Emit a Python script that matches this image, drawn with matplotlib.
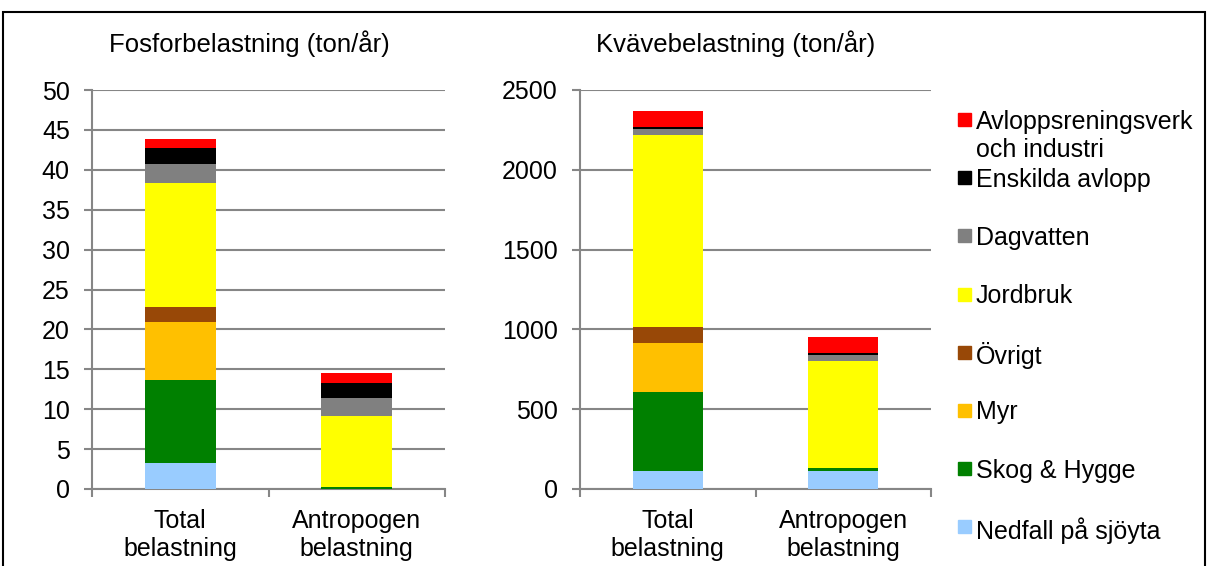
import matplotlib
matplotlib.use("Agg")
import matplotlib.pyplot as plt
from matplotlib.patches import Rectangle
import numpy as np

plt.rcParams["font.family"] = ["Liberation Sans", "DejaVu Sans"]
plt.rcParams["font.size"] = 18

# Data (ton/år), stacking order bottom -> top
sources = ["Nedfall på sjöyta", "Skog & Hygge", "Myr", "Övrigt", "Jordbruk",
           "Dagvatten", "Enskilda avlopp", "Avloppsreningsverk\noch industri"]
colors = ["#99CCFF", "#008000", "#FFC000", "#984807", "#FFFF00",
          "#808080", "#000000", "#FF0000"]
categories = ["Total\nbelastning", "Antropogen\nbelastning"]

fosfor_total = [3.2, 10.5, 7.2, 1.9, 15.6, 2.3, 2.0, 1.1]
fosfor_antro = [0.0, 0.3, 0.0, 0.0, 8.8, 2.3, 1.9, 1.2]
kvave_total = [113, 497, 307, 100, 1201, 36, 14, 102]
kvave_antro = [113, 21, 0, 0, 670, 36, 12, 102]

W, H = 1210, 566
fig = plt.figure(figsize=(W / 100, H / 100), dpi=100)

grid_col = "#868686"


def stacked(ax, total, antro, ymax, step):
    x = np.arange(len(categories))
    bottom = np.zeros(len(categories))
    for i, src in enumerate(sources):
        vals = np.array([total[i], antro[i]], dtype=float)
        ax.bar(x, vals, width=0.4, bottom=bottom, color=colors[i], zorder=3)
        bottom += vals
    ax.set_xlim(-0.5, 1.5)
    ax.set_ylim(0, ymax)
    ax.set_yticks(np.arange(0, ymax + step, step))
    ax.yaxis.grid(True, color=grid_col, linewidth=1.5, zorder=0)
    ax.set_xticks(x)
    ax.set_xticklabels(categories, linespacing=1.2)
    ax.set_xticks([-0.5, 0.5, 1.5], minor=True)
    ax.tick_params(axis="x", which="major", length=0, pad=14.5)
    ax.tick_params(axis="x", which="minor", length=6, width=1.5, color=grid_col, direction="out")
    ax.tick_params(axis="y", length=6, width=1.5, color=grid_col, pad=10)
    for s in ["top", "right"]:
        ax.spines[s].set_visible(False)
    for s in ["left", "bottom"]:
        ax.spines[s].set_color(grid_col)
        ax.spines[s].set_linewidth(1.5)


ax1 = fig.add_axes([92 / W, (H - 489) / H, 353 / W, 399 / H])
stacked(ax1, fosfor_total, fosfor_antro, 50, 5)

ax2 = fig.add_axes([580 / W, (H - 489) / H, 351 / W, 399 / H])
stacked(ax2, kvave_total, kvave_antro, 2500, 500)

fig.text(109 / W, 1 - 52 / H, "Fosforbelastning (ton/år)", va="baseline", ha="left", fontsize=18.5)
fig.text(596 / W, 1 - 52 / H, "Kvävebelastning (ton/år)", va="baseline", ha="left", fontsize=18.5)

# Legend, top entry first
for k in range(len(sources)):
    i = len(sources) - 1 - k
    yc = 119.5 + 58.2 * k
    fig.patches.append(Rectangle((958 / W, 1 - (yc + 6.5) / H), 13 / W, 13 / H,
                                 transform=fig.transFigure, color=colors[i]))
    fig.text(976 / W, 1 - (yc - 10) / H, sources[i], va="top", ha="left", linespacing=1.25)

# Outer frame
fig.patches.append(Rectangle((3 / W, -0.1), 1202 / W, 1.1 - 12 / H, transform=fig.transFigure,
                             fill=False, edgecolor="#000000", linewidth=1.5))

fig.savefig("out.png", dpi=100)
